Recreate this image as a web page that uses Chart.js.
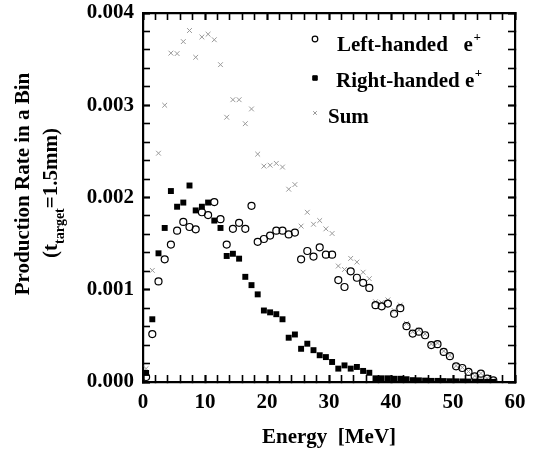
<!DOCTYPE html>
<html>
<head>
<meta charset="utf-8">
<script src="https://cdn.jsdelivr.net/npm/chart.js@4.4.1/dist/chart.umd.min.js"></script>
<style>
  html, body { margin: 0; padding: 0; background: #fff; }
  #wrap { width: 537px; height: 459px; }
</style>
</head>
<body>
<div id="wrap"><canvas id="myChart" width="537" height="459"></canvas></div>
<script>
// bin centres [MeV]
var energy = [0.5, 1.5, 2.5, 3.5, 4.5, 5.5, 6.5, 7.5, 8.5, 9.5,
  10.5, 11.5, 12.5, 13.5, 14.5, 15.5, 16.5, 17.5, 18.5, 19.5,
  20.5, 21.5, 22.5, 23.5, 24.5, 25.5, 26.5, 27.5, 28.5, 29.5,
  30.5, 31.5, 32.5, 33.5, 34.5, 35.5, 36.5, 37.5, 38.5, 39.5,
  40.5, 41.5, 42.5, 43.5, 44.5, 45.5, 46.5, 47.5, 48.5, 49.5,
  50.5, 51.5, 52.5, 53.5, 54.5, 55.5, 56.5];

var leftHanded = [0.000054, 0.00052, 0.00109, 0.00133, 0.00149, 0.00164, 0.001735, 0.00168, 0.001655, 0.00184,
  0.00181, 0.00195, 0.001765, 0.00149, 0.00166, 0.001725, 0.00166, 0.00191, 0.00152, 0.00155,
  0.001587, 0.00164, 0.00164, 0.0016, 0.00162, 0.00133, 0.00142, 0.00136, 0.00146, 0.00138,
  0.00138, 0.001105, 0.00103, 0.0012, 0.00113, 0.001075, 0.00102, 0.000833, 0.00082, 0.00085,
  0.00074, 0.0008, 0.000605, 0.000525, 0.000545, 0.000507, 0.0004, 0.00041, 0.000326, 0.00028,
  0.00017, 0.000152, 0.000109, 0.000062, 0.00009, 0.000036, 0.000018];

var rightHanded = [0.000098, 0.00068, 0.001395, 0.00167, 0.00207, 0.0019, 0.001945, 0.00213, 0.00186, 0.0019,
  0.001945, 0.00175, 0.00167, 0.001366, 0.00139, 0.001337, 0.00114, 0.00105, 0.00095, 0.000775,
  0.000755, 0.000735, 0.00068, 0.00048, 0.000515, 0.00036, 0.000415, 0.000345, 0.00029, 0.00027,
  0.000217, 0.000145, 0.00018, 0.000145, 0.000163, 0.00012, 0.0001, 0.00004, 0.00004, 0.00004,
  0.000035, 0.000035, 0.00003, 0.00002, 0.000018, 0.000015, 0.000012, 0.000012, 0.00001, 0.000008,
  0.000007, 0.000006, 0.000005, 0.000004, 0.000003, 0.000002, 0.000001];

var sumRate = [0.000145, 0.00121, 0.00248, 0.003, 0.003565, 0.00356, 0.00369, 0.00381, 0.00352, 0.00374,
  0.00377, 0.00371, 0.00344, 0.00287, 0.00306, 0.00306, 0.0028, 0.00296, 0.00247, 0.00234,
  0.00235, 0.00237, 0.00233, 0.00209, 0.00214, 0.00169, 0.00184, 0.00171, 0.00175, 0.00166,
  0.00161, 0.001257, 0.00122, 0.00134, 0.0013, 0.00119, 0.00112, 0.00087, 0.00086, 0.00089,
  0.000775, 0.000835, 0.000635, 0.000545, 0.000563, 0.000522, 0.000412, 0.000422, 0.000336, 0.000288,
  0.000177, 0.000158, 0.000114, 0.000066, 0.000093, 0.000038, 0.000019];

var xTicks = [0, 10, 20, 30, 40, 50, 60];
var yTicks = [0, 0.001, 0.002, 0.003, 0.004];
var minorPerMajor = 5;

var serif = '"Liberation Serif", "Times New Roman", serif';

function pts(ys) {
  return energy.map(function(e, i) { return {x: e, y: ys[i]}; });
}

// tick positions: every major tick split in 5
function subdivide(majors) {
  var out = [];
  for (var k = 0; k < majors.length - 1; k++) {
    for (var m = 0; m < minorPerMajor; m++) {
      out.push(majors[k] + (majors[k + 1] - majors[k]) * m / minorPerMajor);
    }
  }
  out.push(majors[majors.length - 1]);
  return out;
}
var xAllTicks = subdivide(xTicks);
var yAllTicks = subdivide(yTicks);

// legend inside the plot, top right
var legendPlugin = {
  id: 'insideLegend',
  afterDraw: function(chart) {
    var c = chart.ctx;
    var rows = [
      {ds: 0, mx: 315, my: 39, r: 2.8, tx: 337, ty: 50.5, text: 'Left-handed   e', sup: '+'},
      {ds: 1, mx: 315, my: 78, r: 3.2, tx: 336, ty: 86.5, text: 'Right-handed e', sup: '+'},
      {ds: 2, mx: 315, my: 113, r: 2.6, tx: 328, ty: 123, text: 'Sum', sup: ''}
    ];
    c.save();
    rows.forEach(function(row) {
      var d = chart.data.datasets[row.ds];
      c.strokeStyle = d.borderColor;
      c.fillStyle = d.backgroundColor;
      c.lineWidth = d.borderWidth || 1;
      Chart.helpers.drawPoint(c, {pointStyle: d.pointStyle, radius: row.r, borderWidth: c.lineWidth, rotation: 0}, row.mx, row.my);
      c.fillStyle = '#000';
      c.textBaseline = 'alphabetic';
      c.textAlign = 'left';
      c.font = 'bold 21px ' + serif;
      c.fillText(row.text, row.tx, row.ty);
      if (row.sup) {
        var w = c.measureText(row.text).width;
        c.font = 'bold 13px ' + serif;
        c.fillText(row.sup, row.tx + w + 0.5, row.ty - 10);
      }
    });
    c.restore();
  }
};

// two-line y axis title with a subscript
var yTitlePlugin = {
  id: 'yTitle',
  afterDraw: function(chart) {
    var c = chart.ctx;
    c.save();
    c.fillStyle = '#000';
    c.textBaseline = 'middle';
    c.translate(24, 184);
    c.rotate(-Math.PI / 2);
    c.font = 'bold 21px ' + serif;
    c.textAlign = 'center';
    c.fillText('Production Rate in a Bin', 0, 0);
    c.restore();

    c.save();
    c.fillStyle = '#000';
    c.textBaseline = 'middle';
    c.translate(52, 193);
    c.rotate(-Math.PI / 2);
    var big = 'bold 21px ' + serif, small = 'bold 14px ' + serif;
    c.font = big;
    var w1 = c.measureText('(t').width, w3 = c.measureText('=1.5mm)').width;
    c.font = small;
    var w2 = c.measureText('target').width;
    var x0 = -(w1 + w2 + w3) / 2;
    c.textAlign = 'left';
    c.font = big;
    c.fillText('(t', x0, 0);
    c.font = small;
    c.fillText('target', x0 + w1, 8);
    c.font = big;
    c.fillText('=1.5mm)', x0 + w1 + w2, 0);
    c.restore();
  }
};

var tickFont = {family: serif, size: 21, weight: 'bold'};
var frameBorder = { display: true, color: '#000', width: 2.2 };

// inward tick marks drawn by the axes themselves (negative tick length)
function inwardGrid() {
  return {
    display: true,
    drawOnChartArea: false,
    drawTicks: true,
    tickLength: -7,
    tickColor: '#000',
    tickWidth: function(c) { return (c.index % minorPerMajor == 0) ? 2.2 : 1.6; }
  };
}

function setTicks(list) {
  return function(s) { s.ticks = list.map(function(v) { return {value: v}; }); };
}

const ctx = document.getElementById('myChart');
var chart = new Chart(ctx, {
  type: 'scatter',
  data: {
    datasets: [{
      label: 'Left-handed e+',
      data: pts(leftHanded),
      pointStyle: 'circle',
      pointRadius: 3.5,
      borderColor: '#000',
      backgroundColor: 'rgba(0,0,0,0)',
      borderWidth: 1.2
    }, {
      label: 'Right-handed e+',
      data: pts(rightHanded),
      pointStyle: 'rect',
      pointRadius: 4.2,
      borderColor: '#000',
      backgroundColor: '#000',
      borderWidth: 0
    }, {
      label: 'Sum',
      data: pts(sumRate),
      pointStyle: 'crossRot',
      pointRadius: 3.4,
      borderColor: '#999',
      backgroundColor: '#999',
      borderWidth: 1
    }]
  },
  options: {
    responsive: false,
    animation: false,
    layout: { padding: { top: 13, right: 22, left: 0, bottom: 0 } },
    plugins: {
      legend: { display: false },
      tooltip: { enabled: false }
    },
    scales: {
      x: {
        type: 'linear',
        position: 'bottom',
        min: 0,
        max: 60,
        afterFit: function(s) { s.height = 77; s.paddingLeft = 0; s.paddingRight = 0; },
        afterBuildTicks: setTicks(xAllTicks),
        grid: inwardGrid(),
        border: frameBorder,
        ticks: {
          padding: 15,
          autoSkip: false,
          maxRotation: 0,
          color: '#000',
          font: tickFont,
          callback: function(v, i) { return (i % minorPerMajor == 0) ? String(xTicks[i / minorPerMajor]) : ''; }
        },
        title: {
          display: true,
          text: 'Energy  [MeV]',
          color: '#000',
          font: tickFont,
          padding: { top: 0, bottom: 9 }
        }
      },
      x2: {
        type: 'linear',
        position: 'top',
        min: 0,
        max: 60,
        afterFit: function(s) { s.height = 0; s.paddingLeft = 0; s.paddingRight = 0; },
        afterBuildTicks: setTicks(xAllTicks),
        grid: inwardGrid(),
        border: frameBorder,
        ticks: { display: false, autoSkip: false }
      },
      y: {
        type: 'linear',
        position: 'left',
        min: 0,
        max: 0.004,
        afterFit: function(s) { s.width = 143; s.paddingTop = 0; s.paddingBottom = 0; },
        afterBuildTicks: setTicks(yAllTicks),
        grid: inwardGrid(),
        border: frameBorder,
        ticks: {
          padding: 16,
          autoSkip: false,
          color: '#000',
          font: tickFont,
          callback: function(v, i) { return (i % minorPerMajor == 0) ? yTicks[i / minorPerMajor].toFixed(3) : ''; }
        }
      },
      y2: {
        type: 'linear',
        position: 'right',
        min: 0,
        max: 0.004,
        afterFit: function(s) { s.width = 0; s.paddingTop = 0; s.paddingBottom = 0; },
        afterBuildTicks: setTicks(yAllTicks),
        grid: inwardGrid(),
        border: frameBorder,
        ticks: { display: false, autoSkip: false }
      }
    }
  },
  plugins: [legendPlugin, yTitlePlugin]
});
</script>
</body>
</html>
